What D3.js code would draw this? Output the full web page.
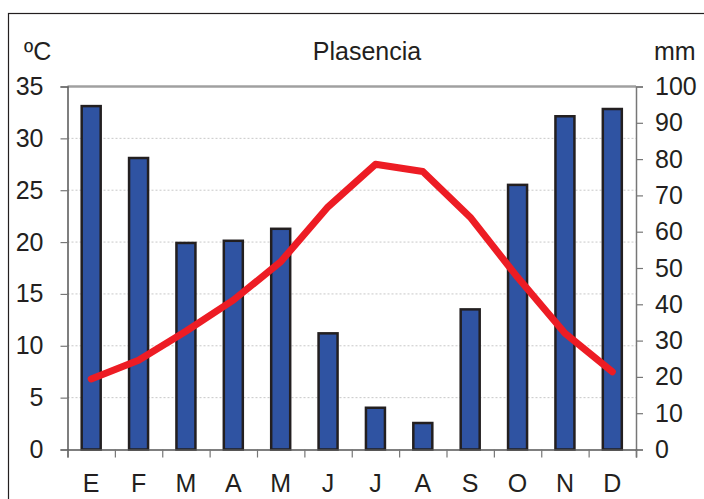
<!DOCTYPE html>
<html>
<head>
<meta charset="utf-8">
<script src="https://cdn.jsdelivr.net/npm/d3@7"></script>
<style>
  body { margin: 0; background: #fff; }
  text { font-family: "Liberation Sans", Arial, sans-serif; fill: #231f20; }
</style>
</head>
<body>
<div id="chart"></div>
<script>
const months = ["E", "F", "M", "A", "M", "J", "J", "A", "S", "O", "N", "D"];
const rainMM = [94.6, 80.3, 56.9, 57.5, 60.8, 32.0, 11.5, 7.3, 38.6, 72.9, 91.8, 93.8];
const tempC = [6.8, 8.6, 11.4, 14.4, 18.1, 23.4, 27.5, 26.8, 22.4, 16.6, 11.2, 7.5];
const tempTicks = [0, 5, 10, 15, 20, 25, 30, 35];
const rainTicks = [0, 10, 20, 30, 40, 50, 60, 70, 80, 90, 100];

const margin = { top: 86.5, right: 68, bottom: 49.5, left: 67.5 },
    width = 704 - margin.left - margin.right,
    height = 499 - margin.top - margin.bottom;

const svg = d3.select("#chart").append("svg")
    .attr("width", 704)
    .attr("height", 499)

// outer frame, runs off the right and bottom edges
svg.append("rect")
    .attr("x", 8.5).attr("y", 13.5)
    .attr("width", 800).attr("height", 600)
    .attr("fill", "none").attr("stroke", "#231f20").attr("stroke-width", 1.2)

const g = svg.append("g").attr("transform", "translate(" + margin.left + "," + margin.top + ")");

const x = d3.scaleBand().domain(d3.range(12)).range([0, width]).padding(0);
const yTemp = d3.scaleLinear().domain([0, 35]).range([height, 0]);
const yRain = d3.scaleLinear().domain([0, 100]).range([height, 0]);

// gridlines
g.selectAll(".grid")
    .data(tempTicks.filter(d => d > 0 && d < 35))
    .enter().append("line")
    .attr("x1", 0).attr("x2", width)
    .attr("y1", d => yTemp(d)).attr("y2", d => yTemp(d))
    .attr("stroke", "#c8c8c8").attr("stroke-width", 1).attr("stroke-dasharray", "2,2")

// top border of plot
g.append("line")
    .attr("x1", 0).attr("x2", width).attr("y1", 0).attr("y2", 0)
    .attr("stroke", "#a0a0a0").attr("stroke-width", 2.5)

// bars
const barW = 19;
g.selectAll(".bar")
    .data(rainMM)
    .enter().append("rect")
    .attr("class", "bar")
    .attr("x", (d, i) => x(i) + x.bandwidth() / 2 - barW / 2)
    .attr("y", d => yRain(d))
    .attr("width", barW)
    .attr("height", d => height - yRain(d))
    .attr("fill", "#2f53a2")
    .attr("stroke", "#231f20")
    .attr("stroke-width", 2.5)

// temperature line
const line = d3.line()
    .x((d, i) => x(i) + x.bandwidth() / 2)
    .y(d => yTemp(d));

g.append("path")
    .datum(tempC)
    .attr("d", line)
    .attr("fill", "none")
    .attr("stroke", "#ed1c24")
    .attr("stroke-width", 7)
    .attr("stroke-linecap", "round")
    .attr("stroke-linejoin", "round")

// axes
const leftAxis = g.append("g")
    .call(d3.axisLeft(yTemp).tickValues(tempTicks).tickSize(7).tickPadding(17));
const rightAxis = g.append("g")
    .attr("transform", "translate(" + width + ",0)")
    .call(d3.axisRight(yRain).tickValues(rainTicks).tickSize(7).tickPadding(12));

const tickScale = d3.scaleLinear().domain([0, 12]).range([0, width]);
const bottomTicks = g.append("g")
    .attr("transform", "translate(0," + height + ")")
    .call(d3.axisBottom(tickScale).ticks(12).tickSize(8).tickFormat(""));
const bottomLabels = g.append("g")
    .attr("transform", "translate(0," + height + ")")
    .call(d3.axisBottom(x).tickSize(0).tickPadding(25).tickFormat(i => months[i]));
bottomLabels.select(".domain").remove();

[leftAxis, rightAxis, bottomTicks].forEach(a => {
    a.select(".domain").attr("stroke", "#555").attr("stroke-width", 1.5);
    a.selectAll(".tick line").attr("stroke", "#777").attr("stroke-width", 1.2);
});
rightAxis.select(".domain").attr("stroke", "#777");

[leftAxis, rightAxis, bottomLabels].forEach(a => {
    a.selectAll("text")
        .attr("font-family", "Liberation Sans, Arial, sans-serif")
        .attr("font-size", 25)
        .attr("fill", "#231f20");
});

// titles
svg.append("text")
    .attr("x", 367).attr("y", 60)
    .attr("text-anchor", "middle")
    .attr("font-size", 25)
    .text("Plasencia");

svg.append("text")
    .attr("x", 24).attr("y", 60)
    .attr("font-size", 25)
    .text("ºC");

svg.append("text")
    .attr("x", 654).attr("y", 60)
    .attr("font-size", 25)
    .text("mm");
</script>
</body>
</html>
